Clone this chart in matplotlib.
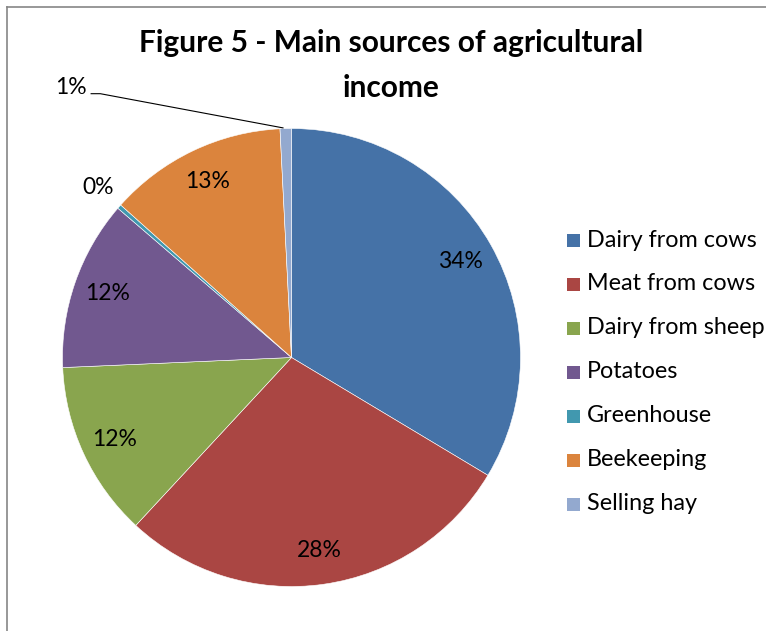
import matplotlib
matplotlib.use("Agg")
import matplotlib.pyplot as plt
from matplotlib.lines import Line2D
from matplotlib.patches import Rectangle
import numpy as np

categories = ["Dairy from cows", "Meat from cows", "Dairy from sheep", "Potatoes",
              "Greenhouse", "Beekeeping", "Selling hay"]
values = [33.6, 28.3, 12.4, 12.0, 0.3, 12.6, 0.8]
colors = ["#4572A7", "#AA4643", "#89A54E", "#71588F", "#4198AF", "#DB843D", "#93A9CF"]
title = "Figure 5 - Main sources of agricultural\nincome"

plt.rcParams['font.family'] = ['Lato', 'DejaVu Sans']

W, H = 766, 631
fig = plt.figure(figsize=(W/100, H/100), dpi=100)

# frame border (left and top)
fig.add_artist(Line2D([6.5/W, 6.5/W], [0, 1 - 7/H], color="#868686", lw=1.2))
fig.add_artist(Line2D([6.5/W, 1], [1 - 7/H, 1 - 7/H], color="#868686", lw=1.2))

cx, cy, r = 291.5, H - 357.5, 229
ax = fig.add_axes([(cx - r)/W, (cy - r)/H, 2*r/W, 2*r/H])
wedges, texts, autotexts = ax.pie(values, colors=colors, startangle=90, counterclock=False,
                                  autopct='%.0f%%', pctdistance=0.85, radius=1,
                                  wedgeprops=dict(edgecolor='white', linewidth=0.4),
                                  textprops=dict(fontsize=16.5, color='black'))
ax.set_xlim(-1, 1)
ax.set_ylim(-1, 1)
ax.set_aspect('equal')
ax.axis('off')

# Greenhouse label outside
w = wedges[4]
ang = np.deg2rad((w.theta1 + w.theta2) / 2)
autotexts[4].set_position((1.125*np.cos(ang), 1.125*np.sin(ang)))

# Selling hay label with leader line
w = wedges[6]
ang = np.deg2rad((w.theta1 + w.theta2) / 2)
tx, ty = -0.965, 1.178
autotexts[6].set_position((tx, ty))
ax.add_line(Line2D([-0.875, -0.835, np.cos(ang) - 0.012], [1.152, 1.152, np.sin(ang) + 0.003],
                   color='black', lw=0.8, clip_on=False))

for t in autotexts:
    t.set_clip_on(False)

fig.text(391.5/W, 1 - 29/H, title, ha='center', va='top', fontsize=21.5,
         fontweight='bold', linespacing=1.72)

# legend
y0 = 240
for i, (lab, col) in enumerate(zip(categories, colors)):
    y = y0 + i*44
    fig.add_artist(Rectangle((567/W, 1 - (y + 7)/H), 13/W, 13/H, facecolor=col,
                             edgecolor='none', transform=fig.transFigure))
    fig.text(587/W, 1 - y/H, lab, ha='left', va='center', fontsize=16.8)

fig.savefig("out.png", dpi=100)
